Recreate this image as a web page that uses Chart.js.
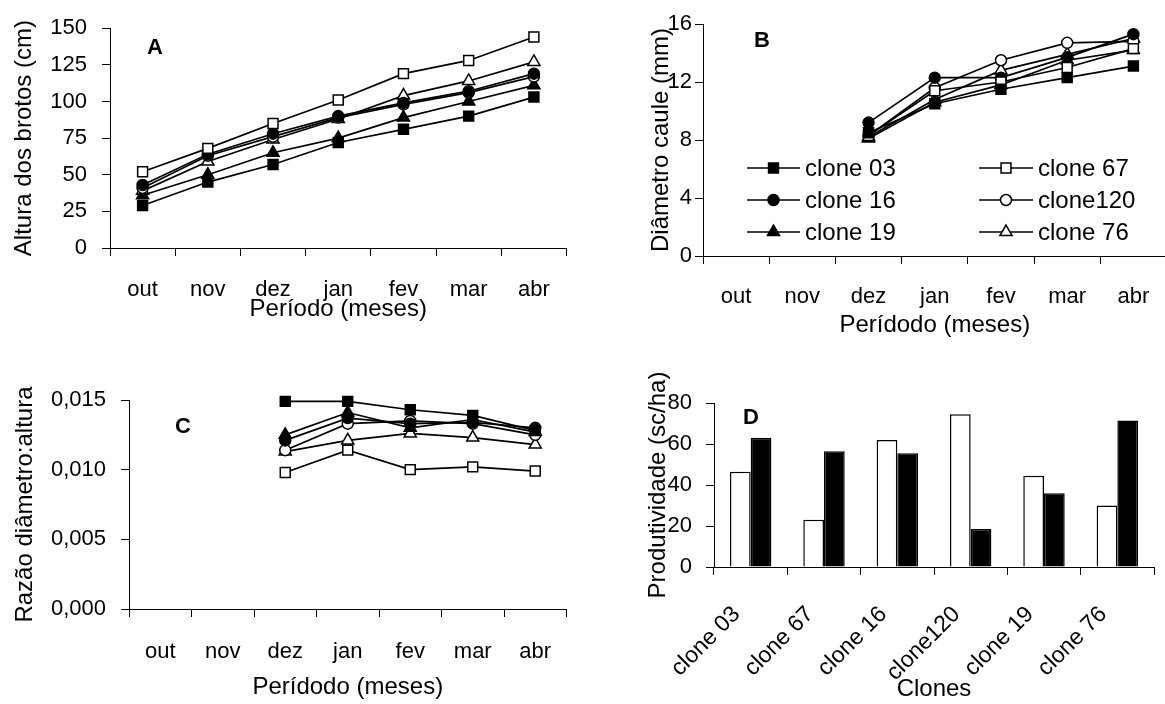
<!DOCTYPE html>
<html>
<head>
<meta charset="utf-8">
<script src="https://cdn.jsdelivr.net/npm/chart.js@4.4.1/dist/chart.umd.min.js"></script>
<style>
  html, body { margin: 0; padding: 0; background: #fff; overflow: hidden; }
  body { width: 1165px; height: 704px; position: relative; }
  canvas { position: absolute; }
  .tag { position: absolute; font: bold 22px 'Liberation Sans', Arial, sans-serif; line-height: 1; transform: translate(-50%, -50%); color: #000; }
</style>
</head>
<body>
<canvas id="chartA" width="575" height="340" style="left:0;top:0"></canvas>
<canvas id="chartB" width="535" height="345" style="left:640px;top:0"></canvas>
<canvas id="chartC" width="575" height="334" style="left:0;top:370px"></canvas>
<canvas id="chartD" width="525" height="334" style="left:640px;top:370px"></canvas>
<div class="tag" style="left:155px;top:47px">A</div>
<div class="tag" style="left:762px;top:40px">B</div>
<div class="tag" style="left:183px;top:426px">C</div>
<div class="tag" style="left:751px;top:417px">D</div>
<script>
const FONT = "'Liberation Sans', Arial, sans-serif";

const months = ['out', 'nov', 'dez', 'jan', 'fev', 'mar', 'abr'];
const clones = ['clone 03', 'clone 67', 'clone 16', 'clone120', 'clone 19', 'clone 76'];

// A: altura dos brotos (cm)
const alturaC03 = [29, 45, 57, 72, 81, 90, 103];
const alturaC67 = [52, 68, 85, 101, 119, 128, 144];
const alturaC16 = [43, 64, 78, 90, 99, 107, 119];
const alturaC120 = [41, 63, 76, 89, 98, 106, 117];
const alturaC19 = [36, 50, 65, 75, 89, 100, 111];
const alturaC76 = [39, 59, 74, 88, 104, 114, 127];

// B: diametro do caule (mm), only from dez
const diamC03 = [null, null, 8.5, 10.5, 11.5, 12.3, 13.1];
const diamC67 = [null, null, 8.3, 11.4, 12.0, 13.0, 14.3];
const diamC16 = [null, null, 9.2, 12.3, 12.3, 13.7, 15.3];
const diamC120 = [null, null, 8.3, 11.6, 13.5, 14.7, 14.8];
const diamC19 = [null, null, 8.1, 10.6, 11.8, 13.5, 14.2];
const diamC76 = [null, null, 8.2, 10.8, 12.8, 13.9, 15.0];

// C: razao diametro:altura
const razaoC03 = [null, null, 0.0149, 0.0149, 0.0143, 0.0139, 0.0128];
const razaoC67 = [null, null, 0.0098, 0.0114, 0.0100, 0.0102, 0.0099];
const razaoC16 = [null, null, 0.0121, 0.0137, 0.0133, 0.0134, 0.0130];
const razaoC120 = [null, null, 0.0114, 0.0133, 0.0135, 0.0133, 0.0125];
const razaoC19 = [null, null, 0.0125, 0.0141, 0.0130, 0.0136, 0.0127];
const razaoC76 = [null, null, 0.0113, 0.0121, 0.0126, 0.0123, 0.0118];

// D: produtividade (sc/ha)
const prodOpen = [46.5, 23, 62, 74.5, 44.5, 30];
const prodFilled = [63, 56.5, 55.5, 18.5, 36, 71.5];

// marker per clone
const marks = {
  'clone 03': { shape: 'rect', fill: '#000' },
  'clone 67': { shape: 'rect', fill: '#fff' },
  'clone 16': { shape: 'circle', fill: '#000' },
  'clone120': { shape: 'circle', fill: '#fff' },
  'clone 19': { shape: 'triangle', fill: '#000' },
  'clone 76': { shape: 'triangle', fill: '#fff' },
};
const radius = { rect: 7, circle: 5.5, triangle: 7 };

function lineSet(label, data) {
  const m = marks[label];
  return {
    label, data,
    borderColor: '#000', borderWidth: 1.7,
    pointStyle: m.shape, pointRadius: radius[m.shape],
    pointBackgroundColor: m.fill, pointBorderColor: '#000', pointBorderWidth: 1.5,
    tension: 0, clip: false, spanGaps: false,
  };
}

function xCat(o) {
  return {
    type: 'category', offset: true,
    grid: { drawOnChartArea: false, drawTicks: true, tickLength: 8, color: '#000', offset: true },
    border: { display: true, color: '#000', width: 1 },
    ticks: {
      color: '#000', font: { family: FONT, size: o.tickSize || 22 }, padding: o.tickPad,
      autoSkip: false, minRotation: o.rot || 0, maxRotation: o.rot || 0, labelOffset: o.labelOffset || 0,
    },
    title: { display: true, text: o.title, color: '#000', font: { family: FONT, size: 24 }, padding: { top: 0, bottom: o.titlePad } },
    afterFit: s => { s.height = o.height; },
  };
}

function yLin(o) {
  return {
    min: o.min, max: o.max,
    grid: { drawOnChartArea: false, drawTicks: true, tickLength: 8, color: '#000' },
    border: { display: true, color: '#000', width: 1 },
    ticks: { stepSize: o.step, color: '#000', font: { family: FONT, size: o.tickSize || 22 }, padding: o.tickPad, callback: o.fmt },
    title: { display: true, text: o.title, color: '#000', font: { family: FONT, size: 24 }, padding: { top: o.titlePad, bottom: 0 } },
    afterFit: s => { s.width = o.width; },
  };
}

function baseOptions(pad, x, y) {
  return {
    responsive: false, animation: false, devicePixelRatio: 1,
    layout: { padding: pad },
    plugins: { legend: { display: false }, tooltip: { enabled: false } },
    scales: { x, y },
  };
}

function drawMark(ctx, m, x, y) {
  const r = radius[m.shape];
  ctx.beginPath();
  if (m.shape === 'rect') {
    const s = r * Math.SQRT1_2;
    ctx.rect(x - s, y - s, 2 * s, 2 * s);
  } else if (m.shape === 'circle') {
    ctx.arc(x, y, r, 0, Math.PI * 2);
  } else {
    for (let i = 0; i < 3; i++) {
      const a = i * 2 * Math.PI / 3;
      const px = x + Math.sin(a) * r, py = y - Math.cos(a) * r;
      i ? ctx.lineTo(px, py) : ctx.moveTo(px, py);
    }
    ctx.closePath();
  }
  ctx.fillStyle = m.fill;
  ctx.fill();
  ctx.lineWidth = 1.5;
  ctx.strokeStyle = '#000';
  ctx.stroke();
}

// legend of panel B: two columns, three rows, inside the plot
const legendCols = [{ x1: 107, x2: 160, tx: 165 }, { x1: 339, x2: 393, tx: 398 }];
const legendRows = [168, 200, 232];
const legendOrder = [
  ['clone 03', 0, 0], ['clone 16', 0, 1], ['clone 19', 0, 2],
  ['clone 67', 1, 0], ['clone120', 1, 1], ['clone 76', 1, 2],
];
const legendB = {
  id: 'legendB',
  afterDraw(chart) {
    const ctx = chart.ctx;
    ctx.save();
    ctx.font = '24px ' + FONT;
    ctx.textBaseline = 'middle';
    legendOrder.forEach(([name, c, r]) => {
      const col = legendCols[c], y = legendRows[r];
      ctx.beginPath();
      ctx.moveTo(col.x1, y); ctx.lineTo(col.x2, y);
      ctx.lineWidth = 1.7; ctx.strokeStyle = '#000'; ctx.stroke();
      drawMark(ctx, marks[name], (col.x1 + col.x2) / 2, y);
      ctx.fillStyle = '#000';
      ctx.fillText(name, col.tx, y + 1);
    });
    ctx.restore();
  },
};

new Chart(document.getElementById('chartA'), {
  type: 'line',
  data: {
    labels: months,
    datasets: [
      lineSet('clone 03', alturaC03), lineSet('clone 67', alturaC67), lineSet('clone 16', alturaC16),
      lineSet('clone120', alturaC120), lineSet('clone 19', alturaC19), lineSet('clone 76', alturaC76),
    ],
  },
  options: baseOptions({ top: 25, right: 7, left: 0, bottom: 0 },
    xCat({ title: 'Período (meses)', tickPad: 21, titlePad: 16, height: 92 }),
    yLin({ min: 0, max: 150, step: 25, title: 'Altura dos brotos (cm)', tickPad: 15, titlePad: 10, width: 110 })),
});

new Chart(document.getElementById('chartB'), {
  type: 'line',
  data: {
    labels: months,
    datasets: [
      lineSet('clone 03', diamC03), lineSet('clone 67', diamC67), lineSet('clone 16', diamC16),
      lineSet('clone120', diamC120), lineSet('clone 19', diamC19), lineSet('clone 76', diamC76),
    ],
  },
  options: baseOptions({ top: 24, right: 3, left: 0, bottom: 0 },
    xCat({ title: 'Perídodo (meses)', tickPad: 20, titlePad: 5, height: 89 }),
    yLin({ min: 0, max: 16, step: 4, title: 'Diâmetro caule (mm)', tickPad: 3, titlePad: 7, width: 63 })),
  plugins: [legendB],
});

new Chart(document.getElementById('chartC'), {
  type: 'line',
  data: {
    labels: months,
    datasets: [
      lineSet('clone 03', razaoC03), lineSet('clone 67', razaoC67), lineSet('clone 16', razaoC16),
      lineSet('clone120', razaoC120), lineSet('clone 19', razaoC19), lineSet('clone 76', razaoC76),
    ],
  },
  options: baseOptions({ top: 30, right: 5, left: 0, bottom: 0 },
    xCat({ title: 'Perídodo (meses)', tickPad: 22, titlePad: 2, height: 95 }),
    yLin({ min: 0, max: 0.015, step: 0.005, title: 'Razão diâmetro:altura', tickPad: 15, titlePad: 11, width: 129,
      fmt: v => v.toFixed(3).replace('.', ',') })),
});

new Chart(document.getElementById('chartD'), {
  type: 'bar',
  data: {
    labels: clones,
    datasets: [
      { data: prodOpen, backgroundColor: '#fff', borderColor: '#000', borderWidth: 1.5, barPercentage: 1, categoryPercentage: 0.565 },
      { data: prodFilled, backgroundColor: '#000', borderColor: '#000', borderWidth: 1.5, barPercentage: 1, categoryPercentage: 0.565 },
    ],
  },
  options: baseOptions({ top: 33, right: 11, left: 0, bottom: 0 },
    xCat({ title: 'Clones', tickSize: 23, tickPad: 26, titlePad: 0, height: 137, rot: 45, labelOffset: -14 }),
    yLin({ min: 0, max: 80, step: 20, title: 'Produtividade (sc/ha)', tickSize: 22, tickPad: 14, titlePad: 4, width: 74 })),
});
</script>
</body>
</html>
